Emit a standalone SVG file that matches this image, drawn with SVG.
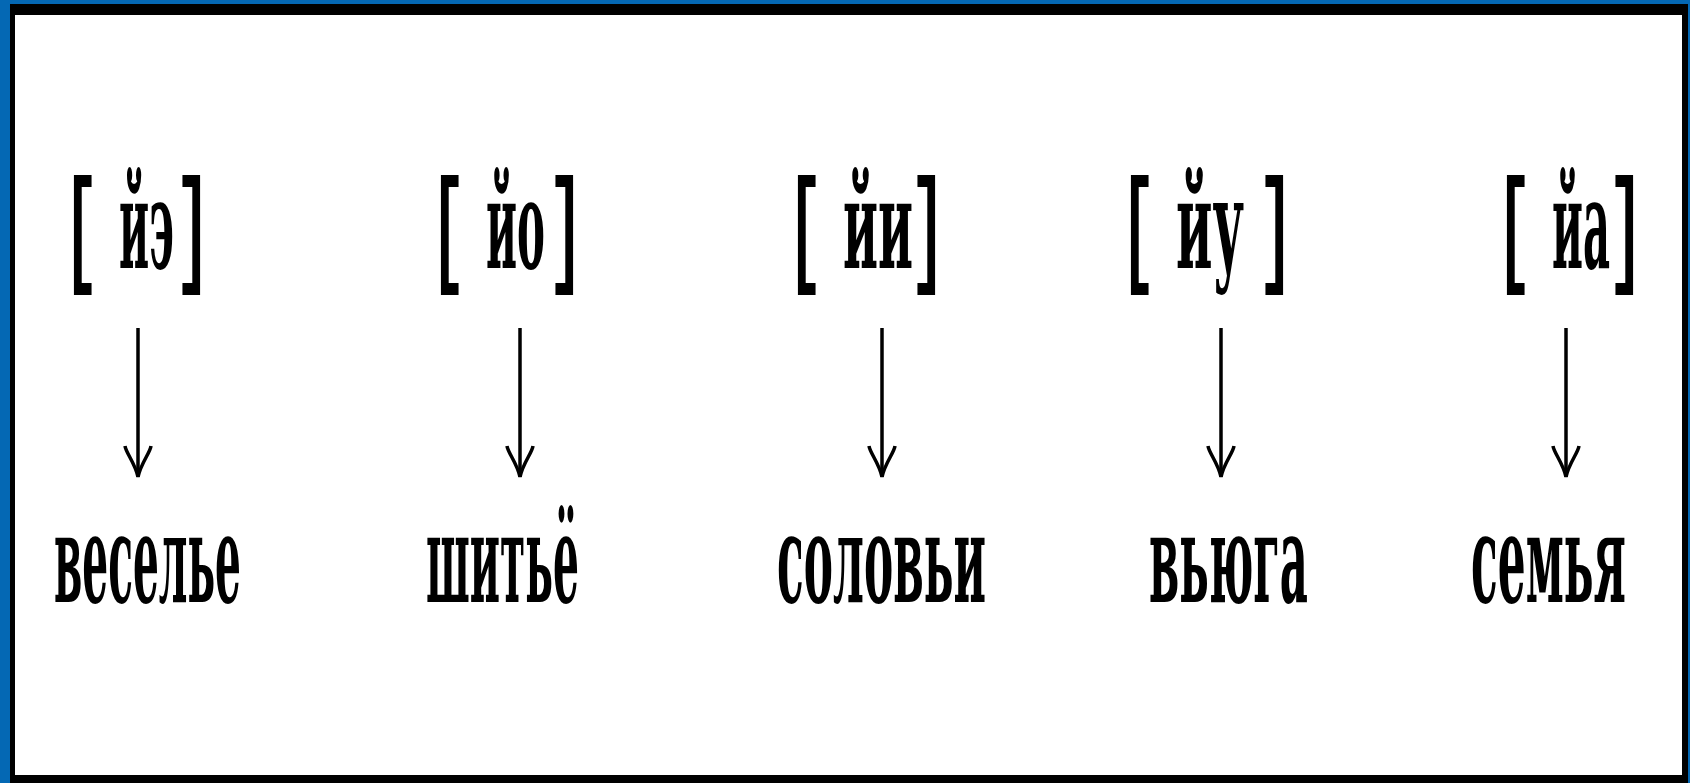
<svg xmlns="http://www.w3.org/2000/svg" width="1690" height="783" viewBox="0 0 1690 783">
<style>
.t{font-family:"DejaVu Serif","Liberation Serif",serif;font-weight:bold;font-size:124px;fill:#000}
.b{font-family:"Liberation Mono","Courier New",monospace;font-weight:bold;font-size:128px;fill:#000}
.c{stroke:#000;stroke-width:3.5;fill:none}
</style>
<defs>
<marker id="ah" viewBox="-34 -16 36 32" refX="0" refY="0" markerWidth="36" markerHeight="32" markerUnits="userSpaceOnUse" orient="auto">
<path d="M-31,-13 C-24,-12 -14,-3 0,0 C-14,3 -24,12 -31,13" fill="none" stroke="#000" stroke-width="3.5"/>
</marker>
</defs>
<rect x="0" y="0" width="1690" height="783" fill="#0468b4"/>
<rect x="10" y="4" width="1678" height="779" fill="#000"/>
<rect x="15" y="15" width="1667" height="760" fill="#fff"/>
<g id="n1">
<text class="b" x="63" y="268" textLength="36" lengthAdjust="spacingAndGlyphs">[</text>
<text class="t" x="119" y="268" textLength="55" lengthAdjust="spacingAndGlyphs">йэ</text>
<text class="b" x="175" y="268" textLength="36" lengthAdjust="spacingAndGlyphs">]</text>
</g>
<g id="n2">
<text class="b" x="430" y="268" textLength="36" lengthAdjust="spacingAndGlyphs">[</text>
<text class="t" x="486" y="268" textLength="59" lengthAdjust="spacingAndGlyphs">йо</text>
<text class="b" x="548" y="268" textLength="36" lengthAdjust="spacingAndGlyphs">]</text>
</g>
<g id="n3">
<text class="b" x="787" y="268" textLength="36" lengthAdjust="spacingAndGlyphs">[</text>
<text class="t" x="843" y="268" textLength="70" lengthAdjust="spacingAndGlyphs">йи</text>
<text class="b" x="910" y="268" textLength="36" lengthAdjust="spacingAndGlyphs">]</text>
</g>
<g id="n4">
<text class="b" x="1120" y="268" textLength="36" lengthAdjust="spacingAndGlyphs">[</text>
<text class="t" x="1176" y="268" textLength="68" lengthAdjust="spacingAndGlyphs">йу</text>
<text class="b" x="1258" y="268" textLength="36" lengthAdjust="spacingAndGlyphs">]</text>
</g>
<g id="n5">
<text class="b" x="1496" y="268" textLength="36" lengthAdjust="spacingAndGlyphs">[</text>
<text class="t" x="1552" y="268" textLength="58" lengthAdjust="spacingAndGlyphs">йа</text>
<text class="b" x="1608" y="268" textLength="36" lengthAdjust="spacingAndGlyphs">]</text>
</g>
<g id="w1"><text class="t" x="54" y="602" textLength="187" lengthAdjust="spacingAndGlyphs">веселье</text></g>
<g id="w2"><text class="t" x="426" y="602" textLength="153" lengthAdjust="spacingAndGlyphs">шитьё</text></g>
<g id="w3"><text class="t" x="777" y="602" textLength="209" lengthAdjust="spacingAndGlyphs">соловьи</text></g>
<g id="w4"><text class="t" x="1149" y="602" textLength="159" lengthAdjust="spacingAndGlyphs">вьюга</text></g>
<g id="w5"><text class="t" x="1471" y="602" textLength="155" lengthAdjust="spacingAndGlyphs">семья</text></g>
<g id="connectors">
<line class="c" x1="138" y1="328" x2="138" y2="477" marker-end="url(#ah)"/>
<line class="c" x1="520" y1="328" x2="520" y2="477" marker-end="url(#ah)"/>
<line class="c" x1="882" y1="328" x2="882" y2="477" marker-end="url(#ah)"/>
<line class="c" x1="1221" y1="328" x2="1221" y2="477" marker-end="url(#ah)"/>
<line class="c" x1="1566" y1="328" x2="1566" y2="477" marker-end="url(#ah)"/>
</g>
</svg>
